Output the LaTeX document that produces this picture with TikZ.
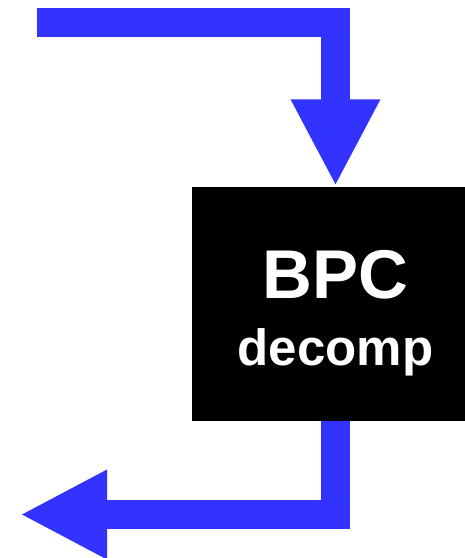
\documentclass[tikz,border=0pt]{standalone}
\usepackage{fontspec}
\setmainfont{Liberation Sans}
\usetikzlibrary{arrows.meta}
\definecolor{flowblue}{RGB}{51, 51, 255}

\begin{document}
\begin{tikzpicture}[x=1pt, y=-1pt,
  flow/.style={color=flowblue, line width=29pt, -{Triangle[width=83pt, length=87pt]}},
  blackbox/.style={fill=black, minimum width=287pt, minimum height=234.5pt, inner sep=0pt},
  boxtext/.style={text=white, anchor=base, inner sep=0pt}]
  \useasboundingbox (0, 0) rectangle (465, 558);

  % Decomposition block (runs off the right edge)
  \node[blackbox] (box) at (335.5, 303.75) {};
  \node[boxtext, font=\bfseries\fontsize{69}{80}\selectfont] (title) at (335.5, 298) {BPC};
  \node[boxtext, font=\bfseries\fontsize{51}{60}\selectfont] (sub) at (335.5, 365) {decomp};

  % Flow in and out
  \coordinate (src) at (37, 22.5);
  \coordinate (dst) at (20, 514.5);
  \draw[flow] (src) -| (box.north);
  \draw[flow] (box.south) |- (dst);
\end{tikzpicture}
\end{document}
